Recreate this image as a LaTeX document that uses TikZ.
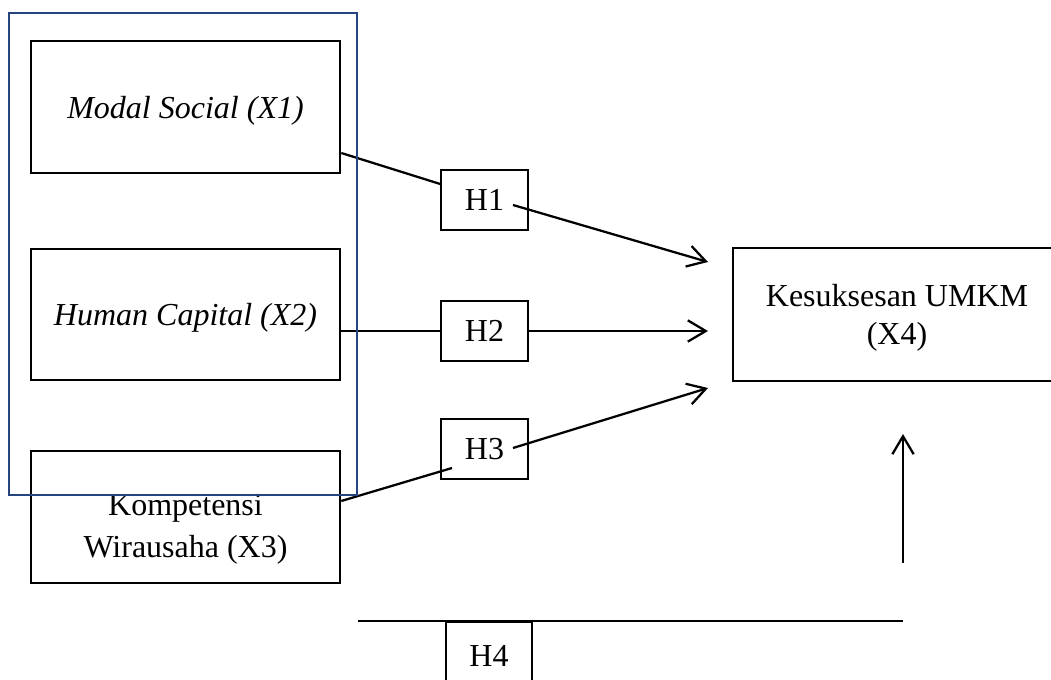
\documentclass[tikz,border=0pt]{standalone}
\usepackage{fontspec}
\setmainfont{Liberation Serif}
\usetikzlibrary{arrows.meta,calc}
\definecolor{framblue}{RGB}{38,68,128}
\begin{document}
\begin{tikzpicture}[x=0.75pt,y=-0.75pt,
  every node/.style={font=\fontsize{24}{29}\selectfont},
  bigbox/.style={draw,line width=1.9pt,inner sep=0pt,minimum width=231.75pt,minimum height=99pt,align=center,text depth=0pt},
  hbox/.style={draw,line width=1.2pt,inner sep=0pt,minimum width=65.25pt,minimum height=45pt,text depth=0pt},
  conn/.style={line width=1.7pt},
  arr/.style={conn,-{Straight Barb[length=13.5pt,width=16pt,line width=1.7pt]}},
  frame/.style={draw=framblue,line width=1.1pt,inner sep=0pt}]
\useasboundingbox (0,0) rectangle (1051,680);
% variable boxes
\node[bigbox] (X1) at (185.5,107) {\textit{Modal Social (X1)}};
\node[bigbox,minimum height=98.25pt] (X2) at (185.5,314.5) {\textit{Human Capital (X2)}};
\node[bigbox] (X3) at (185.5,517) {};
\node[align=center,font=\fontsize{24}{31.5}\selectfont,text depth=0pt] (X3t) at (185.5,526) {Kompetensi\\Wirausaha (X3)};
% outcome box (extends past the right edge)
\begin{scope}
\clip (0,0) rectangle (1051,680);
\node[bigbox,minimum width=246pt,minimum height=99.75pt,font=\fontsize{24}{28.5}\selectfont] (X4) at (897,314.5) {Kesuksesan UMKM\\(X4)};
\end{scope}
% hypothesis boxes
\node[hbox] (H1) at (484.5,200) {H1};
\node[hbox] (H2) at (484.5,331) {H2};
\node[hbox] (H3) at (484.5,449) {H3};
\node[hbox,minimum width=64.5pt,minimum height=51pt] (H4) at (489,656) {H4};
% free ends
\coordinate (t1) at (708,262);
\coordinate (t2) at (708,331);
\coordinate (t3) at (708,388);
\coordinate (v1) at (903,563);
\coordinate (v2) at (903,434);
\coordinate (hr) at (903,621);
% connectors
\draw[conn] ($(X1.east)+(0,46)$) -- ($(H1.west)+(0,-16)$);
\draw[arr] ($(H1.center)+(28.5,5)$) -- (t1);
\draw[conn] (X2.east |- H2.west) -- (H2.west);
\draw[arr] (H2.east) -- (t2);
\draw[conn] ($(X3.east)+(0,-16)$) -- ($(H3.center)+(-32.5,19)$);
\draw[arr] ($(H3.center)+(28.5,-1)$) -- (t3);
\draw[arr] (v1) -- (v2);
% blue frame
\node[frame,minimum width=261pt,minimum height=361.5pt] (F) at (183,254) {};
\draw[line width=1.2pt] (F.east |- hr) -- (hr);
\end{tikzpicture}
\end{document}
